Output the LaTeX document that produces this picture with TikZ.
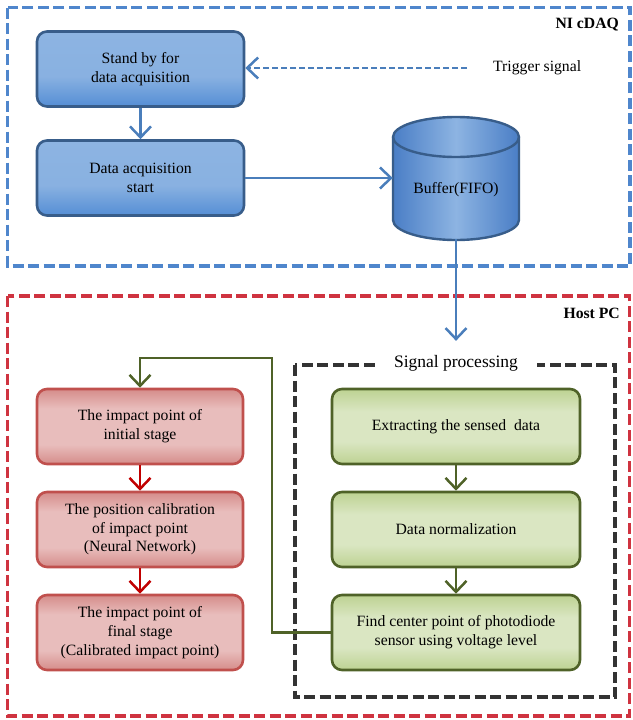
\documentclass[tikz,border=0pt]{standalone}
\usepackage{fontspec}
\setmainfont{Liberation Serif}
\usetikzlibrary{arrows.meta,calc}
\definecolor{blueTop}{HTML}{8DB4E2}
\definecolor{blueBot}{HTML}{558ED5}
\definecolor{blueBorder}{HTML}{385D8A}
\definecolor{blueLine}{HTML}{4A7EBB}
\definecolor{blueDash}{HTML}{4F86CC}
\definecolor{redTop}{HTML}{D58C8A}
\definecolor{redMid}{HTML}{E8BDBC}
\definecolor{redBorder}{HTML}{C0504D}
\definecolor{redArrow}{HTML}{C00000}
\definecolor{redDash}{HTML}{CF3340}
\definecolor{greenTop}{HTML}{BDD292}
\definecolor{greenMid}{HTML}{DAE6C2}
\definecolor{greenBorder}{HTML}{4F6228}
\definecolor{cylEdge}{HTML}{4A7EC6}
\definecolor{cylMid}{HTML}{8DB4E2}
\pgfdeclareverticalshading{blueshade}{100bp}{color(0bp)=(blueBot); color(25bp)=(blueBot); color(45bp)=(blueTop!92!blueBot); color(75bp)=(blueTop); color(100bp)=(blueTop)}
\pgfdeclareverticalshading{redshade}{100bp}{color(0bp)=(redTop); color(25bp)=(redTop); color(38bp)=(redMid); color(62bp)=(redMid); color(75bp)=(redTop); color(100bp)=(redTop)}
\pgfdeclareverticalshading{greenshade}{100bp}{color(0bp)=(greenTop); color(25bp)=(greenTop); color(40bp)=(greenMid); color(60bp)=(greenMid); color(75bp)=(greenTop); color(100bp)=(greenTop)}
\begin{document}
\begin{tikzpicture}[x=1pt,y=1pt,
  font=\fontsize{15.7}{18.7}\selectfont,
  boxbase/.style={rounded corners=10pt, line width=2.6pt, align=center, inner sep=0pt},
  bluebox/.style={boxbase, draw=blueBorder, shading=blueshade, minimum width=207pt, minimum height=75pt},
  redbox/.style={boxbase, draw=redBorder, shading=redshade, minimum width=206pt, minimum height=75pt},
  greenbox/.style={boxbase, draw=greenBorder, shading=greenshade, minimum width=248pt, minimum height=75pt},
  tip/.style={-{Straight Barb[length=11pt,width=21pt]}},
  bluearrow/.style={tip, draw=blueLine, line width=2.5pt},
  redarrow/.style={tip, draw=redArrow, line width=2.5pt},
  greenarrow/.style={tip, draw=greenBorder, line width=2.5pt},
  framebox/.style={line width=3.4pt, dash pattern=on 11pt off 4.5pt},
  ]
\useasboundingbox (0,0) rectangle (632,-720);

% outer frames
\draw[framebox, draw=blueDash] (7.5,-7.5) rectangle (630,-266);
\draw[framebox, draw=redDash] (7.5,-296) rectangle (629.5,-716);
\draw[framebox, draw=black!80, line width=3.7pt] (295,-365) rectangle (615,-697);

% titles
\node[anchor=east, inner sep=0, font=\fontsize{15.7}{18.7}\selectfont\bfseries] (nicdaq) at (619,-25) {NI cDAQ};
\node[anchor=east, inner sep=0, font=\fontsize{15.7}{18.7}\selectfont\bfseries] (hostpc) at (620,-313) {Host PC};
\node[fill=white, inner xsep=19pt, inner ysep=2pt, font=\fontsize{17.5}{20}\selectfont] (sp) at (456,-363) {Signal processing};

% NI cDAQ boxes
\node[bluebox] (b1) at (140.5,-69) {Stand by for\\data acquisition};
\node[bluebox] (b2) at (140.5,-178) {Data acquisition\\start};
\node[anchor=west, inner xsep=26pt, inner ysep=0pt] (trig) at (467,-68) {Trigger signal};

% cylinder
\path[left color=cylEdge, right color=cylEdge, middle color=cylMid]
  (393,-137) -- (393,-220) arc[start angle=180,end angle=360,x radius=63,y radius=20]
  -- (519,-137) arc[start angle=0,end angle=180,x radius=63,y radius=20] -- cycle;
\draw[blueBorder, line width=2.4pt]
  (393,-137) -- (393,-220) arc[start angle=180,end angle=360,x radius=63,y radius=20]
  -- (519,-137) arc[start angle=0,end angle=180,x radius=63,y radius=20] -- cycle;
\draw[blueBorder, line width=2.4pt] (393,-137) arc[start angle=180,end angle=360,x radius=63,y radius=20];
\node[minimum width=126pt, minimum height=122pt, inner sep=0] (buf) at (456,-178) {};
\node (buftext) at (456,-190) {Buffer(FIFO)};

% red boxes
\node[redbox] (r1) at (140,-426.5) {The impact point of\\initial stage};
\node[redbox] (r2) at (140,-529.5) {The position calibration\\of impact point\\(Neural Network)};
\node[redbox] (r3) at (140,-632.5) {The impact point of\\final stage\\(Calibrated impact point)};

% green boxes
\node[greenbox] (g1) at (456,-426.5) {Extracting the sensed\ \ data};
\node[greenbox] (g2) at (456,-529.5) {Data normalization};
\node[greenbox] (g3) at (456,-632.5) {Find center point of photodiode\\sensor using voltage level};

% connectors
\draw[bluearrow] (b1.south) -- (b2.north);
\draw[bluearrow] (b2.east) -- (buf.west);
\draw[bluearrow, dash pattern=on 6pt off 3pt] (trig.west) -- (b1.east |- trig.west);
\draw[draw=blueLine, line width=2.5pt, tip, shorten >=12pt] (buf.south) -- (sp.north);
\draw[redarrow] (r1.south) -- (r2.north);
\draw[redarrow] (r2.south) -- (r3.north);
\draw[greenarrow] (g1.south) -- (g2.north);
\draw[greenarrow] (g2.south) -- (g3.north);
\coordinate (gturn) at (272,-358);
\draw[greenarrow] (g3.west) -| (gturn) -| (r1.north);
\end{tikzpicture}
\end{document}
